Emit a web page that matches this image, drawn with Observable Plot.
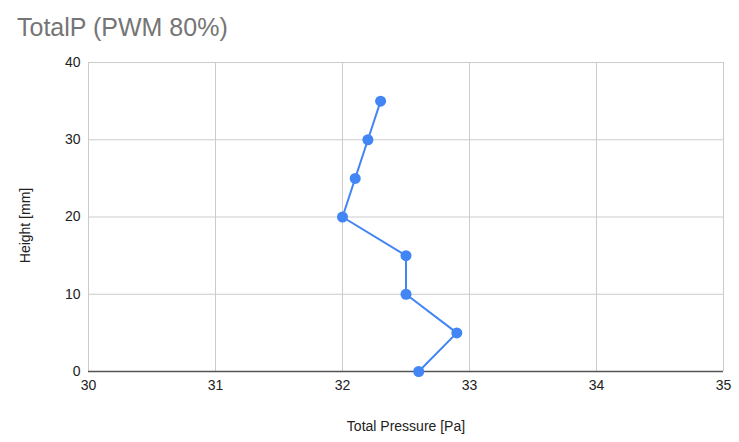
<!DOCTYPE html>
<html>
<head>
<meta charset="utf-8">
<script src="https://cdn.jsdelivr.net/npm/d3@7"></script>
<script src="https://cdn.jsdelivr.net/npm/@observablehq/plot@0.6"></script>
<style>
  html, body { margin: 0; padding: 0; background: #fff; }
  #title { height: 48px; box-sizing: border-box; padding: 15px 0 0 17px; font-family: "Liberation Sans", Arial, sans-serif; font-size: 25px; color: #757575; line-height: 25px; white-space: nowrap; }
  #chart svg { display: block; }
</style>
</head>
<body>
<div id="title">TotalP (PWM 80%)</div>
<div id="chart"></div>
<script>
const heights = [0, 5, 10, 15, 20, 25, 30, 35];
const pressures = [32.6, 32.9, 32.5, 32.5, 32.0, 32.1, 32.2, 32.3];
const xTicks = [30, 31, 32, 33, 34, 35];
const yTicks = [0, 10, 20, 30, 40];
const xLabel = "Total Pressure [Pa]";
const yLabel = "Height [mm]";

const data = heights.map((h, i) => ({height: h, pressure: pressures[i]}));

const chart = Plot.plot({
  width: 739,
  height: 394,
  marginTop: 14,
  marginBottom: 71,
  marginLeft: 88,
  marginRight: 16,
  style: {fontFamily: "'Liberation Sans', Arial, sans-serif", fontSize: "14px", color: "#222", background: "#fff"},
  x: {domain: [30, 35]},
  y: {domain: [0, 40]},
  marks: [
    Plot.ruleX(xTicks, {stroke: "#cccccc", strokeWidth: 1}),
    Plot.ruleY(yTicks.filter(d => d > 0), {stroke: "#cccccc", strokeWidth: 1}),
    Plot.ruleY([0], {stroke: "#555555", strokeWidth: 1.5}),
    Plot.line(data, {x: "pressure", y: "height", stroke: "#4285F4", strokeWidth: 2}),
    Plot.dot(data, {x: "pressure", y: "height", fill: "#4285F4", r: 5.5}),
    Plot.axisX({ticks: xTicks, tickSize: 0, tickPadding: 9, tickFormat: d3.format("d"), label: null, fontSize: 14}),
    Plot.axisY({ticks: yTicks, tickSize: 0, tickPadding: 8, tickFormat: d3.format("d"), label: null, fontSize: 14}),
    Plot.text([xLabel], {frameAnchor: "bottom", text: d => d, textAnchor: "middle", lineAnchor: "middle", dy: 55.5, fontSize: 14, fill: "#222"}),
    Plot.text([yLabel], {frameAnchor: "left", text: d => d, textAnchor: "middle", lineAnchor: "middle", rotate: -90, dx: -63, dy: 8.5, fontSize: 14, fill: "#222"})
  ]
});
document.getElementById("chart").appendChild(chart);
</script>
</body>
</html>
